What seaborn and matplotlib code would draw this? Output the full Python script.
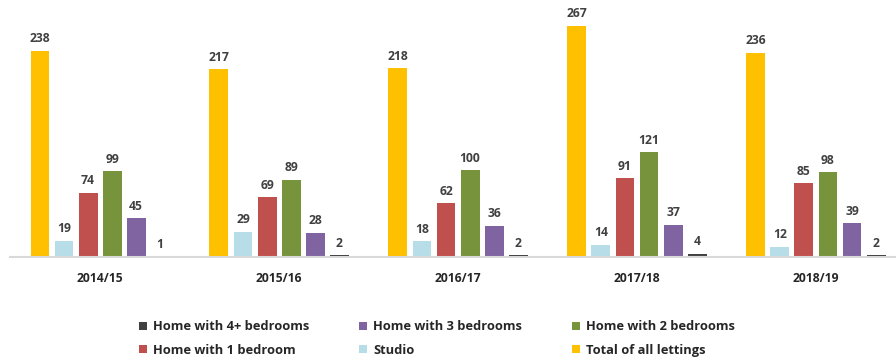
import matplotlib
matplotlib.use("Agg")
import matplotlib.pyplot as plt
from matplotlib.patches import Patch
import pandas as pd
import seaborn as sns

years = ["2014/15", "2015/16", "2016/17", "2017/18", "2018/19"]
series = ["Total of all lettings", "Studio", "Home with 1 bedroom",
          "Home with 2 bedrooms", "Home with 3 bedrooms", "Home with 4+ bedrooms"]
total = [238, 217, 218, 267, 236]
studio = [19, 29, 18, 14, 12]
one_bed = [74, 69, 62, 91, 85]
two_bed = [99, 89, 100, 121, 98]
three_bed = [45, 28, 36, 37, 39]
four_bed = [1, 2, 2, 4, 2]
colors = ["#FFC000", "#B7DEE8", "#C0504D", "#77933C", "#8064A2", "#404040"]

values = [total, studio, one_bed, two_bed, three_bed, four_bed]
rows = []
for name, vals in zip(series, values):
    for yr, v in zip(years, vals):
        rows.append({"year": yr, "series": name, "value": v})
df = pd.DataFrame(rows)

sns.set_theme(style="white")
plt.rcParams["font.family"] = ["Open Sans", "DejaVu Sans"]

W, H = 896, 361
fig = plt.figure(figsize=(W / 100, H / 100), dpi=100)
ax = fig.add_axes([10 / W, (H - 257) / H, (W - 10) / W, 257 / H])

sns.barplot(data=df, x="year", y="value", hue="series", hue_order=series,
            palette=colors, saturation=1, width=0.805, gap=0.21, dodge=True,
            legend=False, ax=ax, linewidth=0)

for cont in ax.containers:
    ax.bar_label(cont, fmt="%d", padding=4, fontsize=8.7, fontweight="bold",
                 color="#404040")

ax.set_xlim(-0.503, 4.447)
ax.set_ylim(0, 297)
ax.set_xlabel("")
ax.set_ylabel("")
ax.set_yticks([])
for s in ["top", "right", "left"]:
    ax.spines[s].set_visible(False)
ax.spines["bottom"].set_color("#D9D9D9")
ax.spines["bottom"].set_linewidth(1.5)
ax.tick_params(axis="x", length=0, pad=11, labelsize=8.7, labelcolor="#262626")
for t in ax.get_xticklabels():
    t.set_fontweight("bold")

order = ["Home with 4+ bedrooms", "Home with 1 bedroom",
         "Home with 3 bedrooms", "Studio",
         "Home with 2 bedrooms", "Total of all lettings"]
cmap = dict(zip(series, colors))
handles = [Patch(facecolor=cmap[n], edgecolor="none", label=n) for n in order]
fig.legend(handles=handles, ncol=3, loc="center",
           bbox_to_anchor=(437 / W, 1 - 338.5 / H), frameon=False,
           prop={"weight": "bold", "size": 9.3}, handlelength=0.6,
           handleheight=0.6, handletextpad=0.45, columnspacing=3.9,
           labelspacing=0.8, borderpad=0)

fig.savefig("out.png", dpi=100)
